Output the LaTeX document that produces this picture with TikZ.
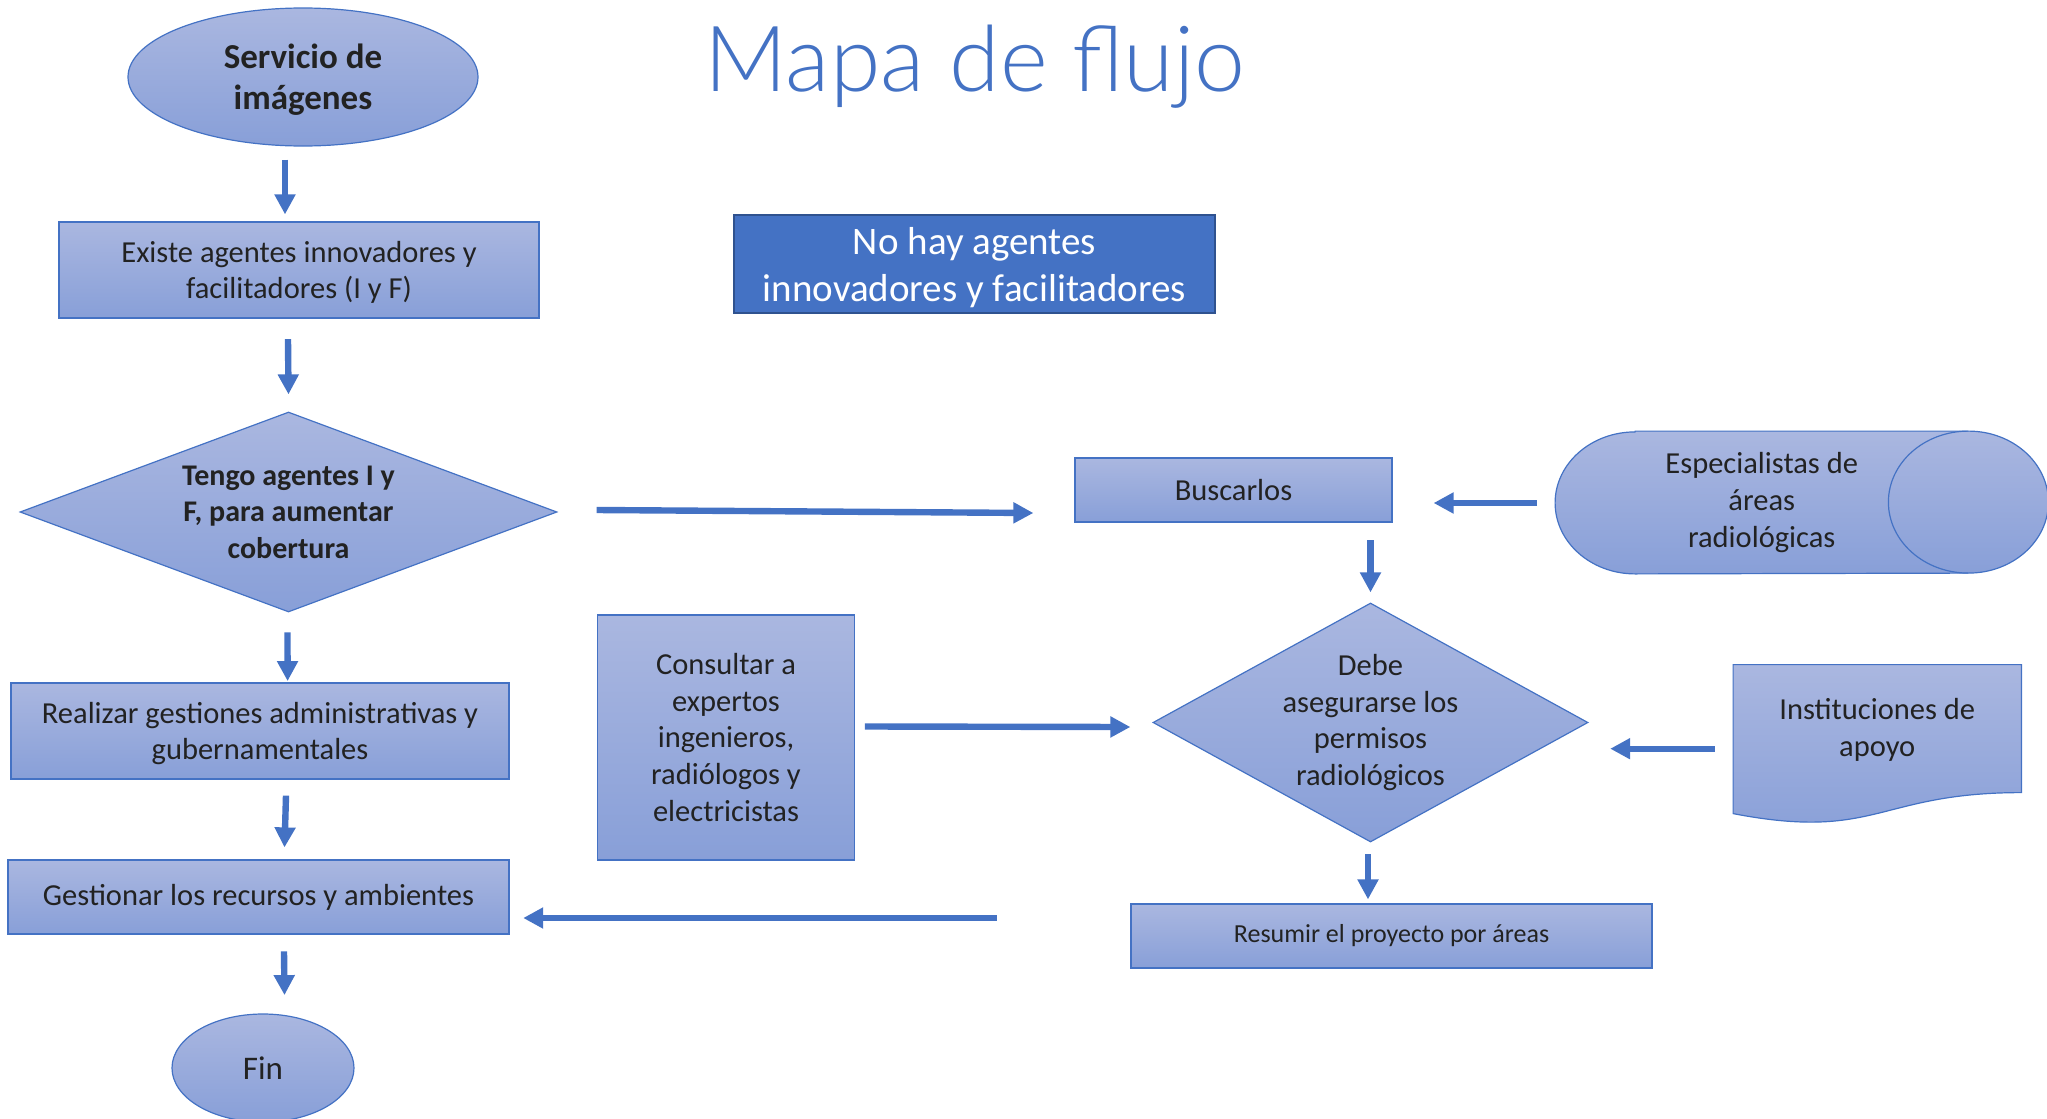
\documentclass[tikz,border=0pt]{standalone}
\usepackage{fontspec}
\setmainfont{Carlito}
\newfontfamily\titlefont{Lato Light}
\usetikzlibrary{shapes.geometric,arrows.meta,calc,backgrounds}
\definecolor{accent}{HTML}{4472C4}
\definecolor{gtop}{RGB}{170,183,224}
\definecolor{gbot}{RGB}{136,159,216}
\definecolor{txt}{HTML}{222222}
\definecolor{darkbord}{HTML}{2F528F}
\begin{document}
\begin{tikzpicture}[x=0.5pt,y=-0.5pt,
  shapefill/.style={top color=gtop,bottom color=gbot,draw=accent,line width=0.6pt},
  basefont/.style={font=\fontsize{15.25}{18.4}\selectfont},
  boxnode/.style={shapefill,rectangle,inner sep=0pt,align=center,text=txt,basefont},
  ellnode/.style={shapefill,ellipse,inner sep=0pt,align=center,text=txt},
  decnode/.style={shapefill,diamond,inner sep=0pt,align=center,text=txt},
  plainnode/.style={rectangle,inner sep=0pt,align=center,text=txt,basefont},
  arr/.style={draw=accent,line width=3.2pt,-{Triangle[length=10pt,width=10pt]}}]
\useasboundingbox (0,0) rectangle (2047,1119);
\clip (0,0) rectangle (2047,1119);

% title
\node[anchor=base,text=accent,font=\titlefont\fontsize{45.7}{54}\selectfont,inner sep=0pt] (title) at (975,91.7) {Mapa de flujo};

% left column
\node[ellnode,minimum width=175pt,minimum height=69pt,text depth=0pt,font=\fontsize{17.5}{20.35}\selectfont\bfseries] (serv) at (303,77) {Servicio de\\imágenes};
\node[boxnode,minimum width=240pt,minimum height=48pt,text depth=0pt] (exist) at (299,270) {Existe agentes innovadores y\\facilitadores (I y F)};
\node[decnode,shape aspect=2.685,minimum width=268.5pt,minimum height=100pt,font=\fontsize{15}{18.3}\selectfont\bfseries] (tengo) at (288.5,512) {Tengo agentes I y\\F, para aumentar\\cobertura};
\node[boxnode,minimum width=249pt,minimum height=48pt,text depth=0pt] (realizar) at (260,731) {Realizar gestiones administrativas y\\gubernamentales};
\node[boxnode,minimum width=250.5pt,minimum height=37pt] (gest) at (258.5,897) {Gestionar los recursos y ambientes};
\node[ellnode,minimum width=91pt,minimum height=54pt,font=\fontsize{16.5}{19}\selectfont] (fin) at (263,1068) {Fin};

% middle
\node[rectangle,fill=accent,draw=darkbord,line width=0.8pt,inner sep=0pt,align=center,text=white,minimum width=240.5pt,minimum height=49pt,text depth=0pt,font=\fontsize{19.5}{23.5}\selectfont] (nohay) at (974.5,264) {No hay agentes\\innovadores y facilitadores};
\node[boxnode,minimum width=128.75pt,minimum height=122.5pt] (consult) at (726,737.5) {Consultar a\\expertos\\ingenieros,\\radiólogos y\\electricistas};

% right
\node[boxnode,minimum width=158.5pt,minimum height=32pt] (buscar) at (1233.5,490) {Buscarlos};
\node[plainnode,minimum width=206.25pt,minimum height=71pt] (espec) at (1761.75,502.5) {Especialistas de\\áreas\\radiológicas};
\node[decnode,shape aspect=1.82,minimum width=217.5pt,minimum height=119.5pt,basefont] (debe) at (1370.5,722.5) {Debe\\asegurarse los\\permisos\\radiológicos};
\node[plainnode,minimum width=143.75pt,minimum height=66pt] (instit) at (1877.25,730) {Instituciones de\\apoyo};
\node[boxnode,minimum width=260.5pt,minimum height=32pt,font=\fontsize{13}{15.7}\selectfont] (resumir) at (1391.5,936) {Resumir el proyecto por áreas};

\begin{scope}[on background layer]
  % horizontal cylinder
  \path[shapefill] ($(espec.north west)+(80,0)$) -- (espec.north east)
    arc[start angle=-90,end angle=90,x radius=80,y radius=71]
    -- ($(espec.south west)+(80,0)$)
    arc[start angle=90,end angle=270,x radius=80,y radius=71] -- cycle;
  \draw[accent,line width=0.6pt] (espec.north east) arc[start angle=-90,end angle=-270,x radius=80,y radius=71];
  % document shape
  \path[shapefill] ($(instit.north west)+(0,1)$) -- ($(instit.north east)+(0,1)$) -- ($(instit.north east)+(0,129)$)
    .. controls ($(instit.north)+(0,129)$) and ($(instit.north)+(0,177.7)$) .. ($(instit.north west)+(0,150)$) -- cycle;
\end{scope}

% connectors
\draw[arr] ($(serv.south)+(-18,13)$) -- ($(exist.north)+(-14,-7)$);
\draw[arr] ($(exist.south)+(-11,20.5)$) -- ($(tengo.north)+(0,-17)$);
\draw[arr] ($(tengo.east)+(39,-2)$) -- ($(buscar.west)+(-41,23)$);
\draw[arr] ($(espec.west)+(-18,0.5)$) -- ($(buscar.east)+(41,13)$);
\draw[arr] ($(buscar.south -| debe.north)+(0,17.5)$) -- ($(debe.north)+(0,-10)$);
\draw[arr] ($(consult.east)+(9.5,-11)$) -- ($(debe.west)+(-22,4.5)$);
\draw[arr] ($(instit.west)+(-18.5,18.7)$) -- ($(debe.east)+(21.6,26.2)$);
\draw[arr] ($(debe.south)+(-2.5,11.6)$) -- ($(resumir.north)+(-23.5,-4)$);
\draw[arr] ($(resumir.west)+(-133.5,-18)$) -- ($(gest.east)+(13.6,21)$);
\draw[arr] ($(tengo.south)+(-1,19.7)$) -- ($(realizar.north)+(27.6,-1.3)$);
\draw[arr] ($(realizar.south)+(26,16)$) -- ($(gest.north)+(26,-12)$);
\draw[arr] ($(gest.south)+(25.5,16.7)$) -- ($(fin.north)+(21.5,-18.3)$);
\end{tikzpicture}
\end{document}
